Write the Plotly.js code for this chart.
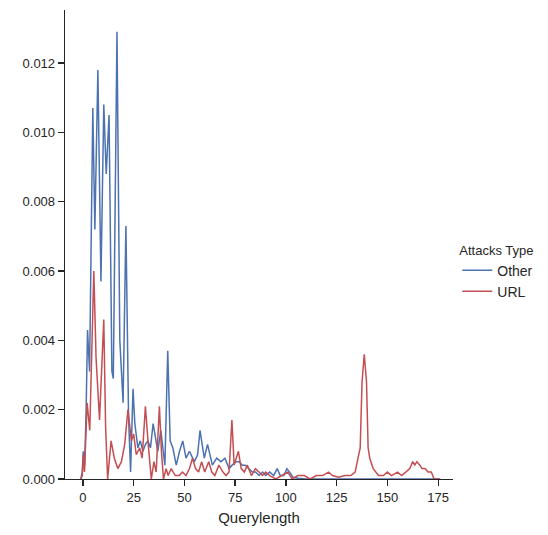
<!DOCTYPE html>
<html>
<head>
<meta charset="utf-8">
<script src="https://cdn.plot.ly/plotly-3.0.1.min.js"></script>
<style>html,body{margin:0;padding:0;background:#fff;}#chart{width:548px;height:535px;}</style>
</head>
<body>
<div id="chart"></div>
<script>
// Density curves
const otherX = [-1, -0.3, 0.2, 0.9, 1.6, 2.3, 3.3, 4.9, 5.9, 7.4, 8.9, 10.3, 11.5, 12.9, 14.3, 15.0, 16.8, 18.2, 19.8, 21.2, 22.5, 23.5, 24.7, 25.6, 27.1, 28.3, 29.6, 30.8, 32.0, 33.3, 34.6, 35.6, 36.9, 38.4, 39.4, 40.4, 41.8, 43.0, 44.3, 46.0, 47.6, 49.2, 50.8, 52.5, 54.9, 56.5, 57.7, 59.8, 61.4, 63.8, 65.9, 68.0, 70.0, 72.0, 73.5, 75.3, 77.0, 78.5, 80.0, 81.8, 83.5, 85.0, 86.8, 88.5, 90.0, 92.0, 94.0, 95.7, 97.2, 99.0, 100.5, 101.8, 103.5, 106, 110, 130, 150, 176];
const otherY = [0, 0.0002, 0.0008, 0.0004, 0.0020, 0.0043, 0.0031, 0.0107, 0.0072, 0.0118, 0.0057, 0.0108, 0.0088, 0.0105, 0.0031, 0.0029, 0.0129, 0.0040, 0.0022, 0.0073, 0.0018, 0.0002, 0.0026, 0.0016, 0.0009, 0.0011, 0.0008, 0.0010, 0.0011, 0.0009, 0.0016, 0.0012, 0.0008, 0.0014, 0.0008, 0.0004, 0.0037, 0.0011, 0.0009, 0.0004, 0.0008, 0.0011, 0.0006, 0.0008, 0.0005, 0.0007, 0.0014, 0.0006, 0.0010, 0.0004, 0.0006, 0.0005, 0.0006, 0.0003, 0.0004, 0.0005, 0.0005, 0.0004, 0.0004, 0.0003, 0.0002, 0.0002, 0.0001, 0.0002, 0.0001, 0.0002, 0.0001, 0.0003, 0.0001, 0.0001, 0.0003, 0.0002, 0.00005, 0.00002, 0, 0, 0, 0];

const urlX = [-1, -0.3, 0.2, 0.8, 2.1, 3.4, 5.4, 6.5, 8.2, 10.3, 11.2, 12.2, 13.9, 15.5, 17.2, 19.0, 20.6, 22.2, 23.9, 25.0, 26.3, 28.0, 29.2, 30.8, 32.2, 33.7, 35.0, 36.1, 37.7, 38.7, 39.7, 41.0, 42.0, 43.5, 45.5, 47.5, 49.0, 50.8, 52.5, 54.0, 55.5, 57.0, 58.5, 60.0, 62.0, 63.5, 65.0, 67.0, 69.0, 70.5, 72.0, 73.4, 74.5, 75.5, 76.6, 78.0, 79.5, 81.0, 83.0, 85.0, 86.8, 88.5, 90.0, 92.0, 95.0, 98.0, 101.0, 103.0, 106.0, 109.0, 112.0, 115.0, 118.0, 121.0, 123.0, 126.0, 129.0, 132.0, 134.1, 135.5, 136.6, 137.5, 138.6, 139.7, 140.5, 141.3, 143.0, 145.6, 148.0, 150.0, 152.0, 155.0, 157.0, 159.0, 161.0, 162.5, 163.5, 164.5, 166.0, 167.0, 168.5, 170.0, 171.6, 173.0, 176];
const urlY = [0, 0.0001, 0.0007, 0.0002, 0.0022, 0.0014, 0.0060, 0.0035, 0.0017, 0.0046, 0.0015, 0.0000, 0.0011, 0.0006, 0.0003, 0.0005, 0.0010, 0.0020, 0.0011, 0.0013, 0.0007, 0.0009, 0.0006, 0.0021, 0.0010, 0.0000, 0.0005, 0.0002, 0.0021, 0.0008, 0.0000, 0.0003, 0.0001, 0.0003, 0.0001, 0.0001, 0.0002, 0.0001, 0.0003, 0.0006, 0.0003, 0.0002, 0.0005, 0.0002, 0.0005, 0.0002, 0.0001, 0.0004, 0.0002, 0.0001, 0.0002, 0.0017, 0.0004, 0.0006, 0.0008, 0.0003, 0.0002, 0.0004, 0.0001, 0.0003, 0.0002, 0.0001, 0.0002, 0.0001, 0.0000, 0.0001, 0.0002, 0.0000, 0.0001, 0.0001, 0.0000, 0.0001, 0.0001, 0.0002, 0.0001, 0.00005, 0.0001, 0.0001, 0.0002, 0.0006, 0.0009, 0.0028, 0.0036, 0.0028, 0.0009, 0.0006, 0.0003, 0.0001, 0.0001, 0.0002, 0.0001, 0.0002, 0.0001, 0.0002, 0.0003, 0.0005, 0.0004, 0.0005, 0.0004, 0.0003, 0.0003, 0.0002, 0.0002, 0.0000, 0];

const seriesNames = ["Other", "URL"];
const xTicks = [0, 25, 50, 75, 100, 125, 150, 175];
const yTicks = [0, 0.002, 0.004, 0.006, 0.008, 0.010, 0.012];

const font = "Liberation Sans, Arial, sans-serif";
const ink = "#262626";

const traces = [
  {x: otherX, y: otherY, name: seriesNames[0], type: "scatter", mode: "lines",
   line: {color: "#4c72b0", width: 1.5}},
  {x: urlX, y: urlY, name: seriesNames[1], type: "scatter", mode: "lines",
   line: {color: "#c44e52", width: 1.5}}
];

const layout = {
  width: 548, height: 535,
  margin: {l: 65, r: 93, t: 10, b: 56, pad: 0},
  paper_bgcolor: "#fff", plot_bgcolor: "#fff",
  font: {family: font, size: 13, color: ink},
  showlegend: true,
  legend: {
    x: 1.011, xanchor: "left", y: 0.44, yanchor: "middle",
    title: {text: "Attacks Type", font: {family: font, size: 13, color: ink}},
    font: {family: font, size: 14, color: ink},
    bgcolor: "rgba(0,0,0,0)", borderwidth: 0
  },
  xaxis: {
    range: [-8.8, 182.3], tickvals: xTicks, ticktext: xTicks.map(String),
    showgrid: false, zeroline: false, showline: true, linecolor: ink, linewidth: 1.3,
    ticks: "outside", ticklen: 6, tickwidth: 1.3, tickcolor: ink,
    tickfont: {family: font, size: 13, color: ink},
    title: {text: "Querylength", font: {family: font, size: 15, color: ink}, standoff: 8}
  },
  yaxis: {
    range: [0, 0.01353], tickvals: yTicks, ticktext: yTicks.map(v => v.toFixed(3)),
    showgrid: false, zeroline: false, showline: true, linecolor: ink, linewidth: 1.3,
    ticks: "outside", ticklen: 6, tickwidth: 1.3, tickcolor: ink,
    tickfont: {family: font, size: 13, color: ink}
  }
};

Plotly.newPlot("chart", traces, layout, {displayModeBar: false, staticPlot: true});
</script>
</body>
</html>
